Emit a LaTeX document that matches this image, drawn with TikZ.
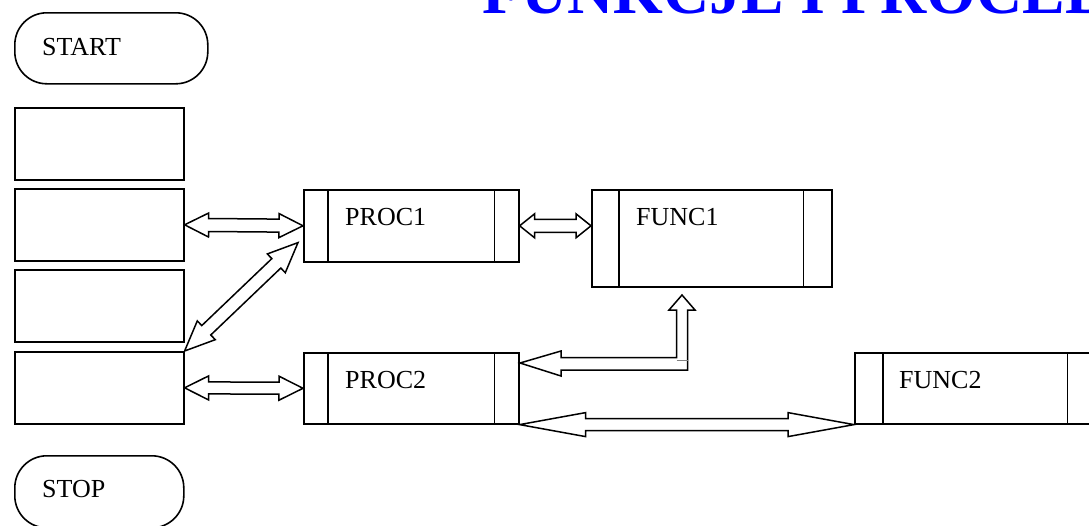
\documentclass[tikz,border=0pt]{standalone}
\usepackage{fontspec}
\setmainfont{Liberation Serif}
\usetikzlibrary{calc, positioning}

% double block arrow: from, to, head length, head half width, shaft half width
\newcommand{\dblarrow}[5]{%
  \path ($(#1)!#3!(#2)$) coordinate (ha) ($(#2)!#3!(#1)$) coordinate (hb);
  \draw[blockarrow] (#1) -- ($(ha)!#4!90:(#2)$) -- ($(ha)!#5!90:(#2)$)
    -- ($(hb)!#5!-90:(#1)$) -- ($(hb)!#4!-90:(#1)$) -- (#2)
    -- ($(hb)!#4!90:(#1)$) -- ($(hb)!#5!90:(#1)$)
    -- ($(ha)!#5!-90:(#2)$) -- ($(ha)!#4!-90:(#2)$) -- cycle;}

\begin{document}
\begin{tikzpicture}[x=1pt, y=-1pt,
    box/.style={draw, line width=1.6pt, inner sep=0pt, anchor=north west},
    term/.style={box, rounded corners=32pt},
    blockarrow/.style={draw, line width=1.5pt, line join=miter, fill=white},
    boxtext/.style={anchor=base west, inner sep=0pt, font=\fontsize{26}{30}\selectfont}]
    \fill[white] (0,0) rectangle (1089,525);
    \useasboundingbox (0,0) rectangle (1089,525);

    % Title
    \node[anchor=base west, inner sep=0pt, text=blue, font=\fontsize{64}{70}\selectfont\bfseries] (title) at (482,13) {FUNKCJE I PROCEDURY};

    % Main program column
    \node[term, minimum width=193pt, minimum height=71pt] (start) at (14,12) {};
    \node[boxtext] (starttxt) at (42,55) {START};
    \node[box, minimum width=169pt, minimum height=72pt] (r1) at (14,107) {};
    \node[box, minimum width=169pt, minimum height=72pt] (r2) at (14,188) {};
    \node[box, minimum width=169pt, minimum height=72pt] (r3) at (14,269) {};
    \node[box, minimum width=169pt, minimum height=72pt] (r4) at (14,351) {};
    \node[term, minimum width=169pt, minimum height=72pt] (stop) at (14,455) {};
    \node[boxtext] (stoptxt) at (42,497) {STOP};

    % Procedures and functions
    \node[box, minimum width=215pt, minimum height=72pt] (proc1) at (303,189) {};
    \draw[line width=1.6pt] ([xshift=25pt]proc1.north west) -- ([xshift=25pt]proc1.south west);
    \draw[line width=1.6pt] ([xshift=-25pt]proc1.north east) -- ([xshift=-25pt]proc1.south east);
    \node[boxtext] (proc1txt) at ($(proc1.north west)+(42,36)$) {PROC1};

    \node[box, minimum width=240pt, minimum height=97pt] (func1) at (591,189) {};
    \draw[line width=1.6pt] ([xshift=28pt]func1.north west) -- ([xshift=28pt]func1.south west);
    \draw[line width=1.6pt] ([xshift=-29pt]func1.north east) -- ([xshift=-29pt]func1.south east);
    \node[boxtext] (func1txt) at ($(func1.north west)+(45,36)$) {FUNC1};

    \node[box, minimum width=215pt, minimum height=71pt] (proc2) at (303,352) {};
    \draw[line width=1.6pt] ([xshift=25pt]proc2.north west) -- ([xshift=25pt]proc2.south west);
    \draw[line width=1.6pt] ([xshift=-25pt]proc2.north east) -- ([xshift=-25pt]proc2.south east);
    \node[boxtext] (proc2txt) at ($(proc2.north west)+(42,36)$) {PROC2};

    \node[box, minimum width=241pt, minimum height=71pt] (func2) at (854,352) {};
    \draw[line width=1.6pt] ([xshift=29pt]func2.north west) -- ([xshift=29pt]func2.south west);
    \draw[line width=1.6pt] ([xshift=-29pt]func2.north east) -- ([xshift=-29pt]func2.south east);
    \node[boxtext] (func2txt) at ($(func2.north west)+(45,36)$) {FUNC2};

    % Calls
    \dblarrow{r2.east}{proc1.west}{24pt}{12pt}{6.5pt}
    \dblarrow{proc1.east}{proc1.east -| func1.west}{15pt}{12pt}{6.5pt}
    \coordinate (p1in) at ($(proc1.south west)+(-5,-20)$);
    \dblarrow{r4.north east}{p1in}{30pt}{13pt}{6.5pt}
    \dblarrow{r4.east}{proc2.west}{24pt}{12pt}{6pt}
    \dblarrow{proc2.south east}{func2.south west}{66pt}{12pt}{6pt}

    % PROC2 <-> FUNC1 (elbow)
    \coordinate (f1in) at (682,295);
    \coordinate (p2in) at (520,363);
    \draw[blockarrow] (f1in) -- (695,310) -- (687.5,310) -- (687.5,370) -- (561,370)
        -- (561,376) -- (p2in) -- (561,351) -- (561,357.5) -- (676.5,357.5)
        -- (676.5,310) -- (669,310) -- cycle;
    \draw[line width=0.8pt, gray] (676.5,360) -- (687.5,360);
\end{tikzpicture}
\end{document}
